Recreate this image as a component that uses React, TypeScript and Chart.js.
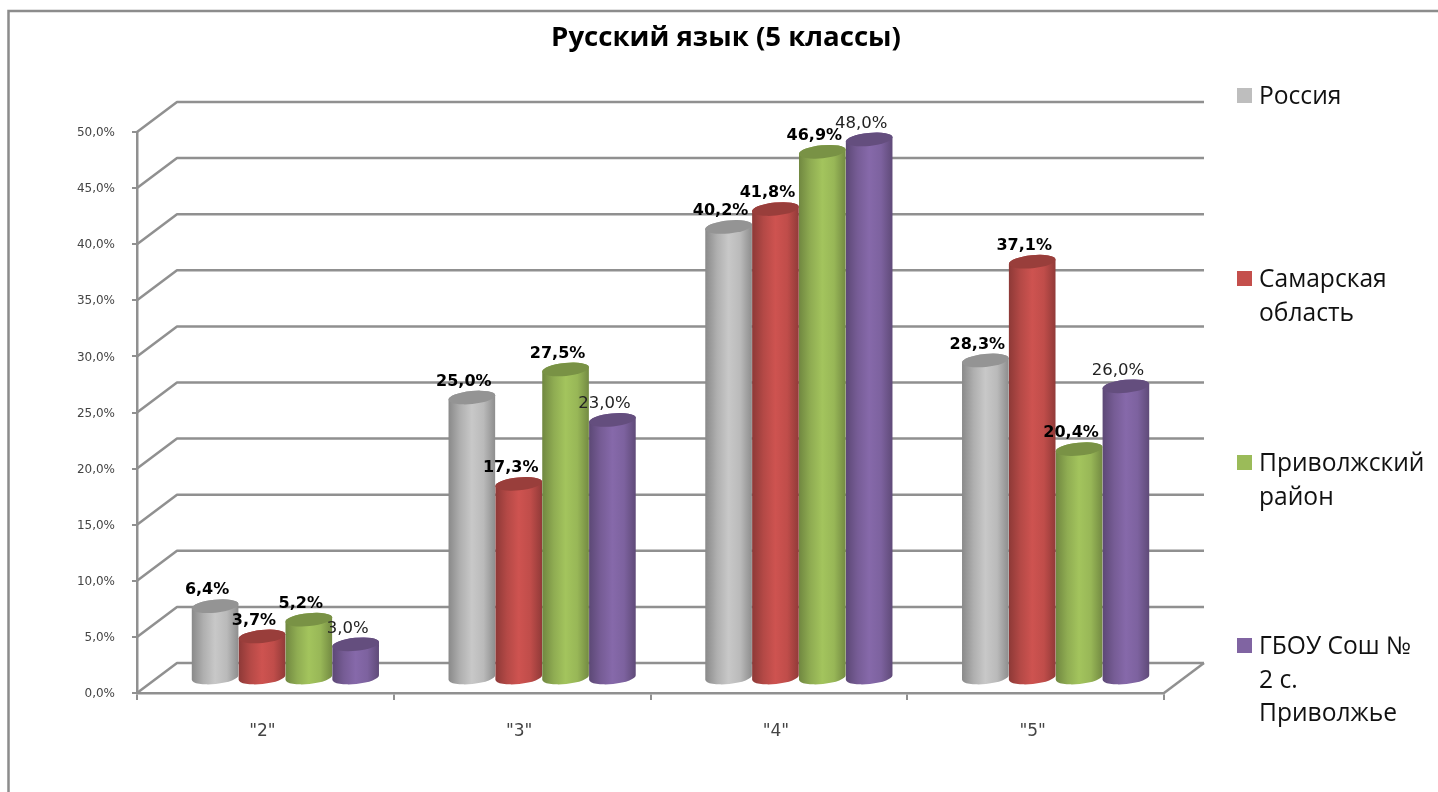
import React, { useEffect, useRef } from "react";
import { Chart, registerables, BarElement } from "chart.js";

const titleText = "Русский язык (5 классы)";
const categories = ['"2"', '"3"', '"4"', '"5"'];
const russia = [6.4, 25.0, 40.2, 28.3];
const samara = [3.7, 17.3, 41.8, 37.1];
const privolzhskiy = [5.2, 27.5, 46.9, 20.4];
const school = [3.0, 23.0, 48.0, 26.0];
const seriesLines = [
  ["Россия"],
  ["Самарская", "область"],
  ["Приволжский", "район"],
  ["ГБОУ Сош №", "2 с.", "Приволжье"],
];
const seriesColors = ["#BEBEBE", "#C44F4C", "#9BBB59", "#8064A2"];

const DEPTH_X = 40;
const DEPTH_Y = -30;
const GRID = "#909090";
const LEGEND_Y = [97, 280, 464, 647];

const pct = (v: number) => v.toFixed(1).replace(".", ",") + "%";

function shade(hex: string, f: number) {
  const n = parseInt(hex.slice(1), 16);
  const ch = (s: number) => Math.max(0, Math.min(255, Math.round(((n >> s) & 255) * f)));
  return `rgb(${ch(16)},${ch(8)},${ch(0)})`;
}

class CylinderBar extends BarElement {
  static id = "cylinderBar";
  draw(ctx: CanvasRenderingContext2D) {
    const { x, y, base, width } = (this as any).getProps(["x", "y", "base", "width"]);
    const color = (this as any).options.backgroundColor as string;
    const cx = x + DEPTH_X / 2;
    const top = y + DEPTH_Y / 2;
    const bot = base + DEPTH_Y / 2 + 0.5;
    const rx = width / 2;
    const ry = 6.5;
    const tilt = -0.1;
    const g = ctx.createLinearGradient(cx - rx, 0, cx + rx, 0);
    g.addColorStop(0, shade(color, 0.72));
    g.addColorStop(0.25, shade(color, 0.92));
    g.addColorStop(0.5, shade(color, 1.05));
    g.addColorStop(0.75, shade(color, 0.98));
    g.addColorStop(1, shade(color, 0.74));
    ctx.save();
    ctx.beginPath();
    ctx.ellipse(cx, bot, rx, ry, tilt, 0, Math.PI);
    ctx.ellipse(cx, top, rx, ry, tilt, Math.PI, Math.PI * 2);
    ctx.closePath();
    ctx.fillStyle = g;
    ctx.fill();
    ctx.beginPath();
    ctx.ellipse(cx, top, rx, ry, tilt, 0, Math.PI * 2);
    ctx.fillStyle = shade(color, 0.78);
    ctx.fill();
    ctx.restore();
  }
}

const decorPlugin = {
  id: "decor",
  beforeDraw(chart: any) {
    const { ctx, width, height } = chart;
    ctx.save();
    ctx.fillStyle = "#fff";
    ctx.fillRect(0, 0, width, height);
    ctx.strokeStyle = "#8c8c8c";
    ctx.lineWidth = 2.5;
    ctx.beginPath();
    ctx.moveTo(8.5, height + 5);
    ctx.lineTo(8.5, 11);
    ctx.lineTo(width + 5, 11);
    ctx.stroke();
    ctx.restore();
  },
  beforeDatasetsDraw(chart: any) {
    const { ctx, scales } = chart;
    const { left, right } = chart.chartArea;
    ctx.save();
    ctx.strokeStyle = GRID;
    ctx.lineWidth = 2.5;
    ctx.lineJoin = "round";
    for (const t of scales.y.ticks) {
      const py = scales.y.getPixelForValue(t.value);
      ctx.beginPath();
      ctx.moveTo(left, py);
      ctx.lineTo(left + DEPTH_X, py + DEPTH_Y);
      ctx.lineTo(right + DEPTH_X, py + DEPTH_Y);
      ctx.stroke();
    }
    const y0 = scales.y.getPixelForValue(0);
    ctx.beginPath();
    ctx.moveTo(right + DEPTH_X, y0 + DEPTH_Y);
    ctx.lineTo(right, y0);
    ctx.stroke();
    ctx.restore();
  },
  afterDatasetsDraw(chart: any) {
    const { ctx } = chart;
    ctx.save();
    ctx.textAlign = "center";
    ctx.textBaseline = "middle";
    chart.data.datasets.forEach((ds: any, i: number) => {
      const meta = chart.getDatasetMeta(i);
      ctx.font = i === 3 ? '16.5px "DejaVu Sans"' : 'bold 16px "DejaVu Sans"';
      ctx.fillStyle = i === 3 ? "#222" : "#000";
      meta.data.forEach((el: any, j: number) => {
        ctx.fillText(pct(ds.data[j]), el.x + DEPTH_X / 2 - 8, el.y + DEPTH_Y / 2 - 16);
      });
    });
    ctx.restore();
  },
  afterDraw(chart: any) {
    const { ctx } = chart;
    ctx.save();
    ctx.fillStyle = "#000";
    ctx.textBaseline = "middle";
    ctx.textAlign = "center";
    ctx.font = 'bold 27.6px "Open Sans"';
    ctx.fillText(titleText, 726, 38);
    ctx.textAlign = "left";
    ctx.font = '24.6px "Open Sans"';
    seriesLines.forEach((lines, i) => {
      const y = LEGEND_Y[i];
      ctx.fillStyle = seriesColors[i];
      ctx.fillRect(1237, y - 9, 15, 15);
      ctx.fillStyle = "#111";
      lines.forEach((line, k) => ctx.fillText(line, 1259, y + k * 33.7));
    });
    ctx.restore();
  },
};

export default function App() {
  const ref = useRef<HTMLCanvasElement>(null);
  useEffect(() => {
    Chart.register(...registerables, CylinderBar as any, decorPlugin as any);
    (Chart.defaults.datasets as any).bar.dataElementType = "cylinderBar";
    const series = [russia, samara, privolzhskiy, school];
    const chart = new Chart(ref.current!, {
      type: "bar",
      data: {
        labels: categories,
        datasets: series.map((data, i) => ({
          label: seriesLines[i].join(" "),
          data,
          backgroundColor: seriesColors[i],
          categoryPercentage: 0.73,
          barPercentage: 1,
        })),
      },
      options: {
        animation: false,
        responsive: false,
        devicePixelRatio: 1,
        layout: { padding: { left: 0, right: 274, top: 132, bottom: 39 } },
        plugins: { legend: { display: false }, title: { display: false }, tooltip: { enabled: false } },
        scales: {
          x: {
            afterFit: (s: any) => { s.height = 60; },
            grid: { drawOnChartArea: false, drawTicks: true, tickLength: 7, color: GRID, lineWidth: 2 },
            border: { color: GRID, width: 2.5 },
            ticks: { color: "#444", padding: 21, labelOffset: -3, font: { family: "DejaVu Sans", size: 17 } },
          },
          y: {
            min: 0,
            max: 50,
            afterFit: (s: any) => { s.width = 137; },
            grid: { drawOnChartArea: false, drawTicks: true, tickLength: 5, color: GRID, lineWidth: 2 },
            border: { color: GRID, width: 2.5 },
            ticks: {
              stepSize: 5,
              color: "#444",
              padding: 17,
              labelOffset: 1,
              font: { family: "DejaVu Sans", size: 12 },
              callback: (v: any) => pct(Number(v)),
            },
          },
        },
      },
    } as any);
    return () => chart.destroy();
  }, []);
  return (
    <div style={{ position: "fixed", left: 0, top: 0, width: 1438, height: 792, overflow: "hidden", background: "#fff" }}>
      <canvas ref={ref} width={1438} height={792} style={{ display: "block" }} />
    </div>
  );
}
